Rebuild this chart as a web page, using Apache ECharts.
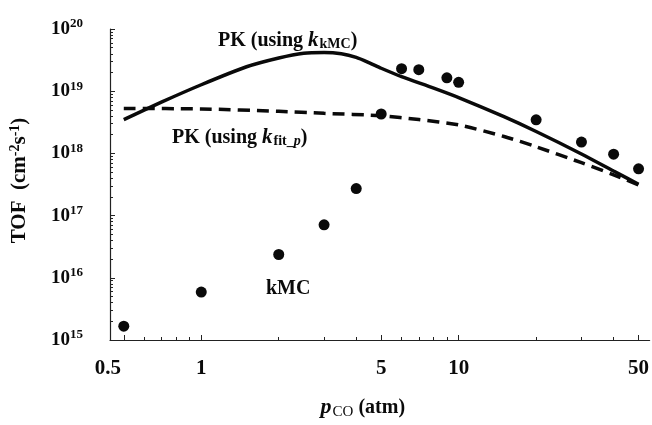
<!DOCTYPE html>
<html>
<head>
<meta charset="utf-8">
<script src="https://cdn.jsdelivr.net/npm/echarts@6/dist/echarts.min.js"></script>
<style>
  html, body { margin: 0; padding: 0; background: #fff; overflow: hidden; }
  #chart { width: 652px; height: 425px; }
</style>
</head>
<body>
<div id="chart"></div>
<script>
// kMC turnover frequencies vs CO pressure
const kmcPressure = [0.5, 1, 2, 3, 4, 5, 6, 7, 9, 10, 20, 30, 40, 50];
const kmcTof = [1.67e15, 5.9e15, 2.37e16, 7.1e16, 2.72e17, 4.3e18, 2.3e19, 2.22e19,
                1.64e19, 1.39e19, 3.47e18, 1.52e18, 9.7e17, 5.65e17];

// PK model with kMC rate constants
const pkKmcPressure = [0.5, 0.7, 1, 1.5, 2, 2.5, 3, 3.5, 4, 4.5, 5, 6, 8, 10, 15, 20, 30, 40, 50];
const pkKmcTof = [3.5e18, 6.67e18, 1.27e19, 2.47e19, 3.42e19, 4.08e19, 4.19e19, 4.0e19,
                  3.5e19, 2.86e19, 2.34e19, 1.72e19, 1.12e19, 7.9e18, 3.89e18, 2.25e18,
                  9.8e17, 5.2e17, 3.19e17];

// PK model with fitted rate constants
const pkFitPressure = [0.5, 1, 2, 3, 5, 7, 10, 15, 20, 30, 40, 50];
const pkFitTof = [5.28e18, 5.19e18, 4.74e18, 4.41e18, 4.03e18, 3.5e18, 2.87e18, 1.87e18,
                  1.28e18, 7.08e17, 4.53e17, 3.1e17];

// Axis ticks and labels
const xMajorTicks = [0.5, 1, 5, 10, 50];
const xMinorTicks = [0.6, 0.7, 0.8, 0.9, 2, 3, 4, 6, 7, 8, 9, 20, 30, 40];
const xLabels = [0.5, 1, 5, 10, 50];
const yMajorTicks = [1e15, 1e16, 1e17, 1e18, 1e19, 1e20];
const yMinorTicks = [];
for (let e = 15; e < 20; e++) {
  for (let k = 2; k <= 9; k++) yMinorTicks.push(k * Math.pow(10, e));
}

const X_MIN = 0.442, X_MAX = 55.2;
const Y_MIN = 1e15, Y_MAX = 1e20;
const SERIF = '"Liberation Serif", "DejaVu Serif", serif';
const INK = '#0a0a0a';

const pairs = (xs, ys) => xs.map((x, i) => [x, ys[i]]);

const chart = echarts.init(document.getElementById('chart'), null, { renderer: 'canvas' });

const baseX = {
  type: 'log', logBase: 10, min: X_MIN, max: X_MAX, position: 'bottom',
  splitLine: { show: false }
};
const baseY = {
  type: 'log', logBase: 10, min: Y_MIN, max: Y_MAX, position: 'left',
  splitLine: { show: false }
};

chart.setOption({
  animation: false,
  backgroundColor: '#fff',
  grid: { left: 107, right: 1, top: 29, bottom: 75, containLabel: false },
  xAxis: [
    Object.assign({}, baseX, {
      name: '{p|p}{sub|CO}{t| (atm)}',
      nameLocation: 'middle',
      nameGap: 55,
      nameTextStyle: {
        padding: [0, 34, 0, 0],
        rich: {
          p: { fontFamily: SERIF, fontStyle: 'italic', fontWeight: 'bold', fontSize: 22, color: INK },
          sub: { fontFamily: SERIF, fontSize: 15, color: INK, padding: [10, 0, 0, 1] },
          t: { fontFamily: SERIF, fontWeight: 'bold', fontSize: 20, color: INK }
        }
      },
      axisLine: { lineStyle: { color: '#222', width: 1.2 } },
      axisTick: { inside: true, length: 5, customValues: xMajorTicks, lineStyle: { color: '#222', width: 1 } },
      axisLabel: {
        customValues: xLabels,
        margin: 18,
        fontFamily: SERIF, fontWeight: 'bold', fontSize: 21, color: INK,
        formatter: v => (v === 0.5 ? '{a|0.5}' : String(v)),
        rich: { a: { fontFamily: SERIF, fontWeight: 'bold', fontSize: 21, color: INK, padding: [0, 32, 0, 0] } }
      }
    }),
    Object.assign({}, baseX, {
      axisLine: { show: false },
      axisTick: { inside: true, length: 3, customValues: xMinorTicks, lineStyle: { color: '#222', width: 1 } },
      axisLabel: { show: false }
    })
  ],
  yAxis: [
    Object.assign({}, baseY, {
      name: '{t|TOF  (cm}{s|-2}{t|s}{s|-1}{t|)}',
      nameLocation: 'middle',
      nameGap: 78,
      nameRotate: 90,
      nameTextStyle: {
        padding: [0, 0, 0, 8],
        rich: {
          t: { fontFamily: SERIF, fontWeight: 'bold', fontSize: 21, color: INK },
          s: { fontFamily: SERIF, fontWeight: 'bold', fontSize: 14, color: INK, padding: [0, 0, 10, 0] }
        }
      },
      axisLine: { lineStyle: { color: '#222', width: 1.2 } },
      axisTick: { inside: true, length: 5, customValues: yMajorTicks, lineStyle: { color: '#222', width: 1 } },
      axisLabel: {
        customValues: yMajorTicks,
        margin: 27,
        formatter: v => '{b|10}{e|' + Math.round(Math.log10(v)) + '}',
        rich: {
          b: { fontFamily: SERIF, fontWeight: 'bold', fontSize: 19, color: INK },
          e: { fontFamily: SERIF, fontWeight: 'bold', fontSize: 13, color: INK, padding: [0, 0, 10, 0] }
        }
      }
    }),
    Object.assign({}, baseY, {
      axisLine: { show: false },
      axisTick: { inside: true, length: 3, customValues: yMinorTicks, lineStyle: { color: '#222', width: 1 } },
      axisLabel: { show: false }
    })
  ],
  series: [
    {
      name: 'PK (using k_kMC)', type: 'line', xAxisIndex: 0, yAxisIndex: 0,
      data: pairs(pkKmcPressure, pkKmcTof),
      smooth: 0.25, showSymbol: false, symbol: 'none',
      lineStyle: { color: INK, width: 3.5 }
    },
    {
      name: 'PK (using k_fit_p)', type: 'line', xAxisIndex: 0, yAxisIndex: 0,
      data: pairs(pkFitPressure, pkFitTof),
      smooth: 0.25, showSymbol: false, symbol: 'none',
      lineStyle: { color: INK, width: 3.5, type: [12, 7] }
    },
    {
      name: 'kMC', type: 'scatter', xAxisIndex: 0, yAxisIndex: 0,
      data: pairs(kmcPressure, kmcTof),
      symbol: 'circle', symbolSize: 11,
      itemStyle: { color: INK, opacity: 1 }
    }
  ],
  graphic: [
    {
      type: 'text', left: 218, top: 30, silent: true,
      style: {
        text: '{t|PK (using }{k|k}{s|kMC}{t|)}',
        rich: {
          t: { fontFamily: SERIF, fontWeight: 'bold', fontSize: 20, fill: INK },
          k: { fontFamily: SERIF, fontWeight: 'bold', fontStyle: 'italic', fontSize: 21, fill: INK },
          s: { fontFamily: SERIF, fontWeight: 'bold', fontSize: 14, fill: INK, padding: [8, 0, 0, 1] }
        }
      }
    },
    {
      type: 'text', left: 172, top: 127, silent: true,
      style: {
        text: '{t|PK (using }{k|k}{s|fit_}{si|p}{t|)}',
        rich: {
          t: { fontFamily: SERIF, fontWeight: 'bold', fontSize: 20, fill: INK },
          k: { fontFamily: SERIF, fontWeight: 'bold', fontStyle: 'italic', fontSize: 21, fill: INK },
          s: { fontFamily: SERIF, fontWeight: 'bold', fontSize: 14, fill: INK, padding: [8, 0, 0, 1] },
          si: { fontFamily: SERIF, fontWeight: 'bold', fontStyle: 'italic', fontSize: 14, fill: INK, padding: [8, 0, 0, 0] }
        }
      }
    },
    {
      type: 'text', left: 266, top: 279, silent: true,
      style: {
        text: 'kMC',
        fontFamily: SERIF, fontWeight: 'bold', fontSize: 20, fill: INK
      }
    }
  ]
});
</script>
</body>
</html>
